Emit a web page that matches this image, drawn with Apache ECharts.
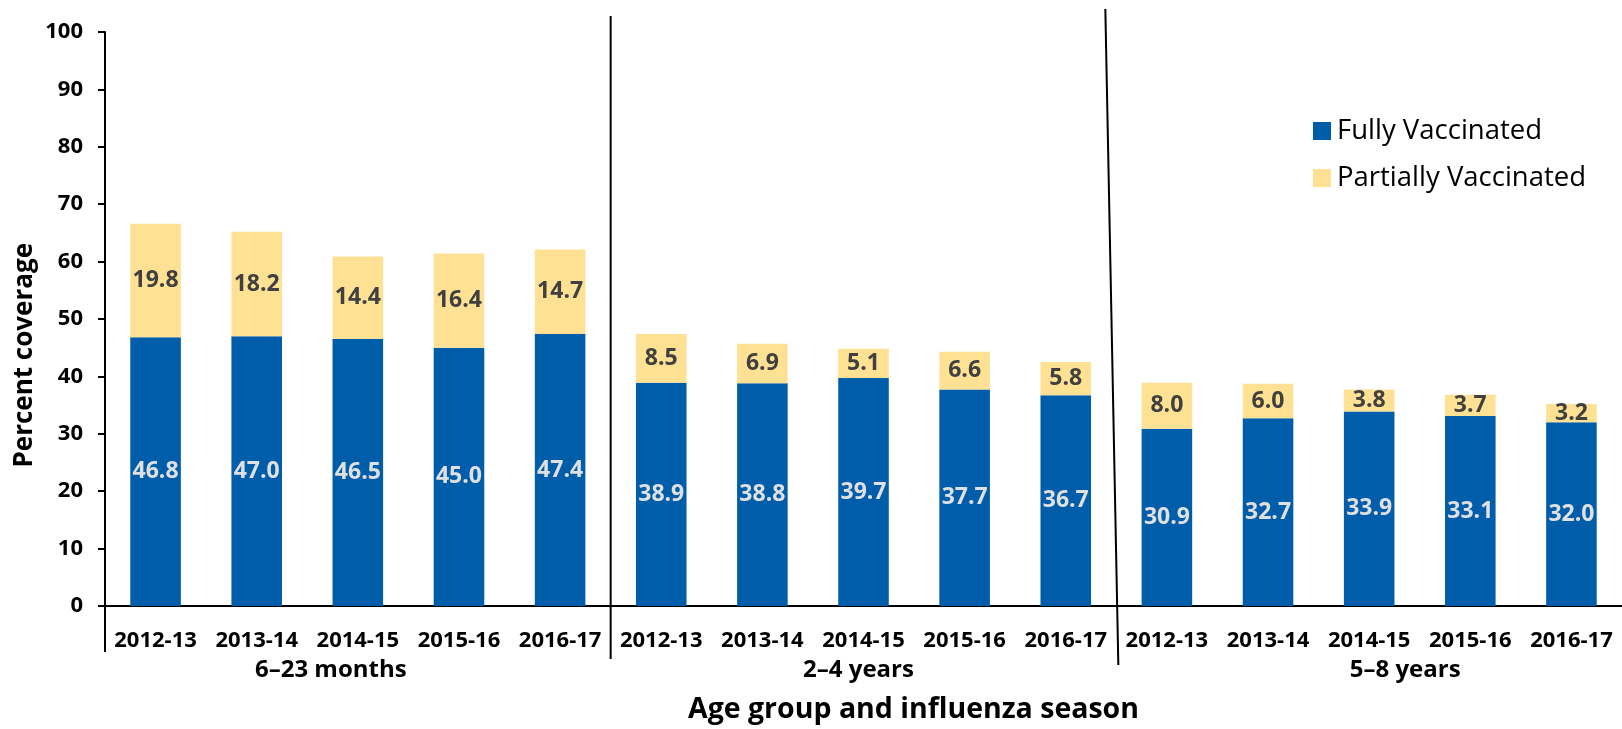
<!DOCTYPE html>
<html>
<head>
<meta charset="utf-8">
<script src="https://cdn.jsdelivr.net/npm/echarts@6/dist/echarts.min.js"></script>
<style>
html,body{margin:0;padding:0;background:#fff;}
#chart{width:1622px;height:729px;}
</style>
</head>
<body>
<div id="chart"></div>
<script>
const seasons = ['2012-13','2013-14','2014-15','2015-16','2016-17',
                 '2012-13','2013-14','2014-15','2015-16','2016-17',
                 '2012-13','2013-14','2014-15','2015-16','2016-17'];
const ageGroups = ['6–23 months','2–4 years','5–8 years'];
const fullyVaccinated = [46.8,47.0,46.5,45.0,47.4, 38.9,38.8,39.7,37.7,36.7, 30.9,32.7,33.9,33.1,32.0];
const partiallyVaccinated = [19.8,18.2,14.4,16.4,14.7, 8.5,6.9,5.1,6.6,5.8, 8.0,6.0,3.8,3.7,3.2];
const yTicks = [0,10,20,30,40,50,60,70,80,90,100];

const FONT = '"Open Sans", sans-serif';
const chart = echarts.init(document.getElementById('chart'), null, {renderer:'canvas'});

const groupStyles = ['gL','gM','gR'];
const option = {
  backgroundColor: '#fff',
  animation: false,
  textStyle: {fontFamily: FONT},
  grid: {left: 105, top: 32, width: 1525, height: 582, containLabel: false},
  legend: {
    orient: 'vertical',
    left: 1308, top: 112,
    itemWidth: 18, itemHeight: 18, itemGap: 19,
    icon: 'rect',
    textStyle: {fontFamily: FONT, fontSize: 27.5, color: '#000', padding: [0,0,0,1]},
    data: ['Fully Vaccinated','Partially Vaccinated']
  },
  xAxis: [{
    type: 'category', data: seasons, position: 'bottom',
    axisLine: {show: true, lineStyle: {color: '#000', width: 2}},
    axisTick: {show: false},
    axisLabel: {fontFamily: FONT, fontWeight: 'bold', fontSize: 22, color: '#000', margin: 24, interval: 0}
  },{
    type: 'category', data: ageGroups, position: 'bottom',
    axisLine: {show: false}, axisTick: {show: false},
    axisLabel: {
      interval: 0, margin: 52,
      formatter: (v, i) => '{' + groupStyles[i] + '|' + v + '}',
      rich: {
        gL: {fontFamily: FONT, fontWeight: 'bold', fontSize: 24, color: '#000', padding: [0,54,0,0]},
        gM: {fontFamily: FONT, fontWeight: 'bold', fontSize: 24, color: '#000', padding: [0,10,0,0]},
        gR: {fontFamily: FONT, fontWeight: 'bold', fontSize: 24, color: '#000', padding: [0,0,0,72]}
      }
    },
    name: 'Age group and influenza season', nameLocation: 'middle', nameGap: 89,
    nameTextStyle: {fontFamily: FONT, fontWeight: 'bold', fontSize: 28.5, color: '#000', padding: [0,0,0,100]}
  }],
  yAxis: {
    type: 'value', min: yTicks[0], max: yTicks[yTicks.length-1], interval: 10,
    splitLine: {show: false},
    axisLine: {show: true, lineStyle: {color: '#000', width: 2}},
    axisTick: {show: true, length: 7, lineStyle: {color: '#000', width: 2}},
    axisLabel: {fontFamily: FONT, fontWeight: 'bold', fontSize: 22, color: '#000', margin: 22}
  },
  series: [{
    name: 'Fully Vaccinated', type: 'bar', stack: 'cov', xAxisIndex: 0,
    data: fullyVaccinated, barWidth: '50%',
    itemStyle: {color: '#005DAA'},
    label: {show: true, position: 'inside', fontFamily: FONT, fontWeight: 'bold', fontSize: 23, color: '#E0E0E0',
            formatter: p => p.value.toFixed(1)}
  },{
    name: 'Partially Vaccinated', type: 'bar', stack: 'cov', xAxisIndex: 0,
    data: partiallyVaccinated, barWidth: '50%',
    itemStyle: {color: '#FFE194'},
    label: {show: true, position: 'inside', fontFamily: FONT, fontWeight: 'bold', fontSize: 23, color: '#404040',
            formatter: p => p.value.toFixed(1)}
  }]
};
chart.setOption(option);

// group separators, computed from the category scale
function boundaryX(i){ // boundary between category i-1 and i
  const a = chart.convertToPixel({xAxisIndex:0}, i-1);
  const b = chart.convertToPixel({xAxisIndex:0}, i);
  return (a+b)/2;
}
const y0 = chart.convertToPixel({yAxisIndex:0}, 0);
const c0 = chart.convertToPixel({xAxisIndex:0}, 0);
const left = c0 - (boundaryX(1) - c0);
const b1 = boundaryX(5), b2 = boundaryX(10);
const ls = {stroke:'#000', lineWidth: 2};
chart.setOption({graphic: [
  {type:'line', shape:{x1:left, y1:y0, x2:left, y2:y0+46}, style:ls, silent:true},
  {type:'line', shape:{x1:b1, y1:16, x2:b1, y2:y0+53}, style:ls, silent:true},
  {type:'line', shape:{x1:b2-11, y1:9, x2:b2+2, y2:y0+59}, style:ls, silent:true},
  {type:'text', left: 12, top: 243, rotation: Math.PI/2,
   style:{text:'Percent coverage', font:'bold 26px "Open Sans", sans-serif', fill:'#000'}}
]});
</script>
</body>
</html>
